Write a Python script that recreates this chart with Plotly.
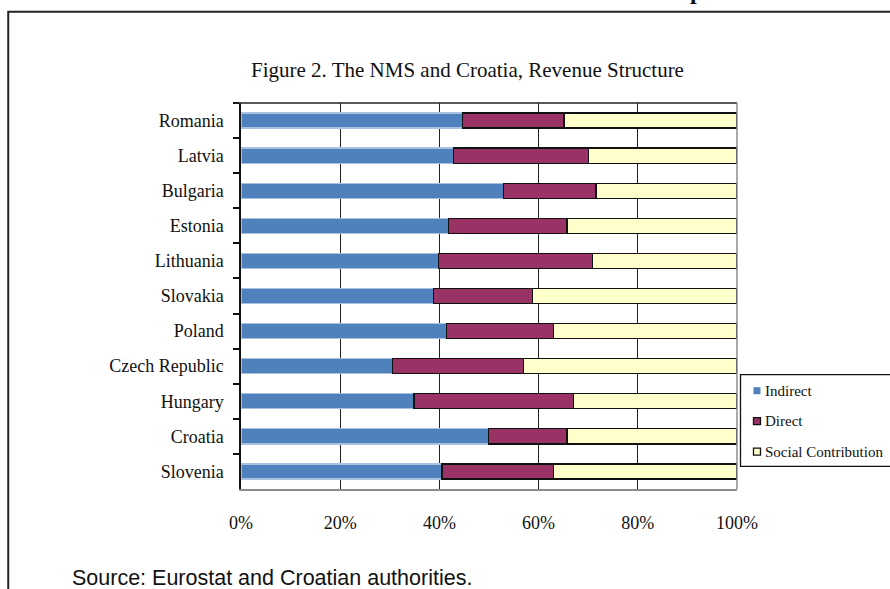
import plotly.graph_objects as go

# Revenue structure shares (% of total) by country, listed top to bottom
countries = ["Romania", "Latvia", "Bulgaria", "Estonia", "Lithuania", "Slovakia",
             "Poland", "Czech Republic", "Hungary", "Croatia", "Slovenia"]
indirect = [44.7, 42.8, 52.9, 41.8, 39.8, 38.8, 41.5, 30.6, 34.9, 49.9, 40.5]
direct = [20.4, 27.2, 18.7, 23.9, 31.1, 20.0, 21.5, 26.3, 32.1, 15.8, 22.5]
social = [34.9, 30.0, 28.4, 34.3, 29.1, 41.2, 37.0, 43.1, 33.0, 34.3, 37.0]

series_names = ["Indirect", "Direct", "Social Contribution"]
series_colors = ["#4F81BD", "#993366", "#FFFFCC"]
series_edges = ["#A9C1DF", "#111111", "#111111"]

W, H = 890, 589
L, R, T, B = 241, 737.5, 103.3, 489.3  # plot area in pixels


def px(x):
    return (x - L) / (R - L)


def py(y):
    return (B - y) / (B - T)


fig = go.Figure()
for name, vals, col, edge in zip(series_names, [indirect, direct, social],
                                 series_colors, series_edges):
    fig.add_trace(go.Bar(
        y=countries, x=[v / 100 for v in vals], name=name, orientation="h",
        width=0.43, marker=dict(color=col, line=dict(color=edge, width=1.3)),
        showlegend=False, hoverinfo="x+y+name",
    ))

serif = "Liberation Serif"

fig.update_layout(
    width=W, height=H, autosize=False,
    margin=dict(l=L, r=W - R, t=T, b=H - B, pad=0),
    paper_bgcolor="white", plot_bgcolor="white",
    barmode="stack", bargap=0.57,
    font=dict(family=serif, size=18, color="#111111"),
)

fig.update_xaxes(
    range=[0, 1], tickvals=[0, 0.2, 0.4, 0.6, 0.8, 1.0], tickformat=".0%",
    showgrid=True, gridcolor="#222222", gridwidth=1.3, zeroline=False,
    showline=True, linecolor="#8C8C8C", linewidth=1.5, ticks="",
    ticklabelstandoff=17, tickfont=dict(family=serif, size=18, color="#111111"),
)
fig.update_yaxes(
    categoryorder="array", categoryarray=countries, autorange="reversed",
    showgrid=False, zeroline=False, showline=True, linecolor="#111111", linewidth=1.5,
    ticks="outside", tickson="boundaries", ticklen=6, tickcolor="#111111", tickwidth=1.5,
    ticklabelstandoff=12, tickfont=dict(family=serif, size=18, color="#111111"),
)

shapes = [
    # top and right edges of the plot area
    dict(type="line", xref="paper", yref="paper", x0=px(235), x1=1, y0=1, y1=1,
         line=dict(color="#222222", width=1.5), layer="above"),
    dict(type="line", xref="paper", yref="paper", x0=1, x1=1, y0=0, y1=1,
         line=dict(color="#8C8C8C", width=1.5), layer="above"),
    # page frame
    dict(type="rect", xref="paper", yref="paper", x0=px(8), x1=px(W + 20),
         y0=py(H + 20), y1=py(12), line=dict(color="#222222", width=2)),
    # legend box
    dict(type="rect", xref="paper", yref="paper", x0=px(741), x1=px(W + 20),
         y0=py(466.7), y1=py(375), line=dict(color="#111111", width=1.3)),
]

legend_y = [391, 421.5, 452]
annotations = []
for name, col, edge, yc in zip(series_names, series_colors, series_edges, legend_y):
    lw = 0 if name == "Indirect" else 1.3
    shapes.append(dict(type="rect", xref="paper", yref="paper",
                       x0=px(754), x1=px(761), y0=py(yc + 3.5), y1=py(yc - 3.5),
                       fillcolor=col, line=dict(color=edge, width=lw)))
    annotations.append(dict(text=name, xref="paper", yref="paper", x=px(764), y=py(yc),
                            xanchor="left", yanchor="middle", showarrow=False,
                            font=dict(family=serif, size=15, color="#111111")))

annotations += [
    dict(text="Figure 2. The NMS and Croatia, Revenue Structure", xref="paper", yref="paper",
         x=px(468), y=py(70.5), xanchor="center", yanchor="middle", showarrow=False,
         font=dict(family=serif, size=21, color="#111111")),
    dict(text="Source: Eurostat and Croatian authorities.", xref="paper", yref="paper",
         x=px(70), y=py(578), xanchor="left", yanchor="middle", showarrow=False,
         font=dict(family="Liberation Sans", size=21.5, color="#111111")),
    dict(text="<b>p</b>", xref="paper", yref="paper", x=px(697), y=py(6),
         xanchor="center", yanchor="bottom", showarrow=False,
         font=dict(family=serif, size=24, color="#111111")),
]

fig.update_layout(shapes=shapes, annotations=annotations)
fig.write_html("out.html")
